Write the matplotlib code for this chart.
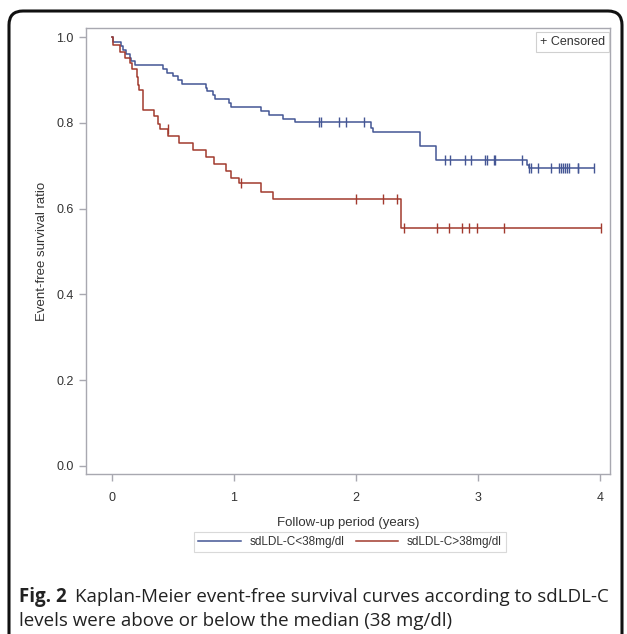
import matplotlib
matplotlib.use("Agg")
import matplotlib.pyplot as plt
from matplotlib.patches import FancyBboxPatch
from matplotlib.lines import Line2D
from matplotlib.transforms import IdentityTransform

# ---- data ----
blue_label = "sdLDL-C<38mg/dl"
red_label = "sdLDL-C>38mg/dl"

blue_t = [0.011, 0.074, 0.093, 0.115, 0.148, 0.160, 0.190, 0.421, 0.448, 0.497, 0.544,
          0.571, 0.770, 0.781, 0.830, 0.844, 0.962, 0.973, 1.219, 1.290, 1.404, 1.500,
          2.120, 2.142, 2.520, 2.655, 3.400, 3.413]
blue_s = [0.988, 0.979, 0.970, 0.961, 0.952, 0.944, 0.934, 0.925, 0.917, 0.908, 0.899,
          0.891, 0.882, 0.873, 0.864, 0.855, 0.845, 0.836, 0.828, 0.819, 0.810, 0.801,
          0.789, 0.778, 0.746, 0.713, 0.702, 0.694]
blue_end = 3.945
blue_cens = [1.697, 1.713, 1.863, 1.915, 2.066, 2.730, 2.770, 2.893, 2.940, 3.057, 3.070,
             3.126, 3.139, 3.358, 3.420, 3.434, 3.490, 3.598, 3.658, 3.677, 3.694, 3.707,
             3.727, 3.746, 3.814, 3.820, 3.945]

red_t = [0.005, 0.070, 0.107, 0.148, 0.167, 0.205, 0.215, 0.224, 0.251, 0.257, 0.344,
         0.380, 0.393, 0.462, 0.552, 0.667, 0.768, 0.836, 0.934, 0.973, 1.045, 1.219,
         1.322, 2.366]
red_s = [0.981, 0.966, 0.952, 0.940, 0.926, 0.907, 0.889, 0.876, 0.852, 0.830, 0.815,
         0.797, 0.785, 0.770, 0.753, 0.736, 0.721, 0.704, 0.687, 0.671, 0.659, 0.639,
         0.622, 0.554]
red_end = 4.006
red_cens = [0.456, 1.060, 1.997, 2.224, 2.336, 2.396, 2.660, 2.757, 2.866, 2.926, 2.994,
            3.208, 4.006]

x_ticks = [0, 1, 2, 3, 4]
y_ticks = [0.0, 0.2, 0.4, 0.6, 0.8, 1.0]

caption_bold = "Fig. 2"
caption_line1 = "Kaplan-Meier event-free survival curves according to sdLDL-C"
caption_line2 = "levels were above or below the median (38 mg/dl)"

BLUE = "#445694"
RED = "#A23A2E"
GRAY = "#a8a8b0"
TXT = "#333333"
FONT = ["Liberation Sans", "DejaVu Sans"]


def km_value(times, surv, t):
    v = 1.0
    for ti, si in zip(times, surv):
        if ti <= t:
            v = si
    return v


fig = plt.figure(figsize=(6.27, 6.34), dpi=100)
ax = fig.add_axes([0.137, 0.2524, 0.836, 0.7034])

for times, surv, end, cens, col in [(blue_t, blue_s, blue_end, blue_cens, BLUE),
                                    (red_t, red_s, red_end, red_cens, RED)]:
    xs = [0.0] + times + [end]
    ys = [1.0] + surv + [surv[-1]]
    ax.step(xs, ys, where="post", color=col, lw=1.1)
    cy = [km_value(times, surv, c) for c in cens]
    ax.plot(cens, cy, ls="none", marker="|", ms=7, mew=1.0, color=col)

ax.set_xlim(-0.213, 4.08)
ax.set_ylim(-0.019, 1.021)
ax.set_xticks(x_ticks)
ax.set_xticklabels([str(v) for v in x_ticks])
ax.set_yticks(y_ticks)
ax.set_yticklabels([f"{v:.1f}" for v in y_ticks])
for sp in ax.spines.values():
    sp.set_color(GRAY)
    sp.set_linewidth(1.0)
ax.tick_params(axis="both", direction="out", length=5, width=1.0, color=GRAY,
               labelsize=9, labelcolor=TXT, pad=4)
ax.tick_params(axis="x", pad=8)
for lab in ax.get_xticklabels() + ax.get_yticklabels():
    lab.set_family(FONT)

ax.set_xlabel("Follow-up period (years)", fontsize=9.5, color=TXT, family=FONT, labelpad=9)
ax.set_ylabel("Event-free survival ratio", fontsize=9.5, color=TXT, family=FONT, labelpad=6)

ax.text(0.991, 0.982, "+ Censored", transform=ax.transAxes, ha="right", va="top",
        fontsize=9, color=TXT, family=FONT,
        bbox=dict(boxstyle="square,pad=0.3", fc="white", ec="#d0d0d0", lw=0.8))

handles = [Line2D([], [], color=BLUE, lw=1.1), Line2D([], [], color=RED, lw=1.1)]
leg = fig.legend(handles, [blue_label, red_label], loc="center",
                 bbox_to_anchor=(350 / 627, 1 - 542 / 634), ncol=2, frameon=True,
                 fancybox=False, edgecolor="#d0d0d0", handlelength=3.6,
                 columnspacing=1.0, handletextpad=0.7, borderpad=0.35,
                 prop={"family": FONT, "size": 8.5})
leg.get_frame().set_linewidth(0.8)
for t in leg.get_texts():
    t.set_color(TXT)

# caption
fig.text(19 / 627, 1 - 597 / 634, caption_bold, fontsize=13.5, ha="left", va="center",
         family="Open Sans", weight="bold", color="#222222")
fig.text(75 / 627, 1 - 597 / 634, caption_line1,
         fontsize=13.5, ha="left", va="center", family="Open Sans", color="#222222")
fig.text(19 / 627, 1 - 621 / 634, caption_line2,
         fontsize=13.5, ha="left", va="center", family="Open Sans", color="#222222")

# outer rounded frame (pixel coordinates)
frame = FancyBboxPatch((9, -20), 613, 643, boxstyle="round,pad=0,rounding_size=14",
                       fill=False, ec="#111111", lw=2.2)
frame.set_transform(IdentityTransform())
fig.patches.append(frame)

fig.savefig("out.png", dpi=100)
